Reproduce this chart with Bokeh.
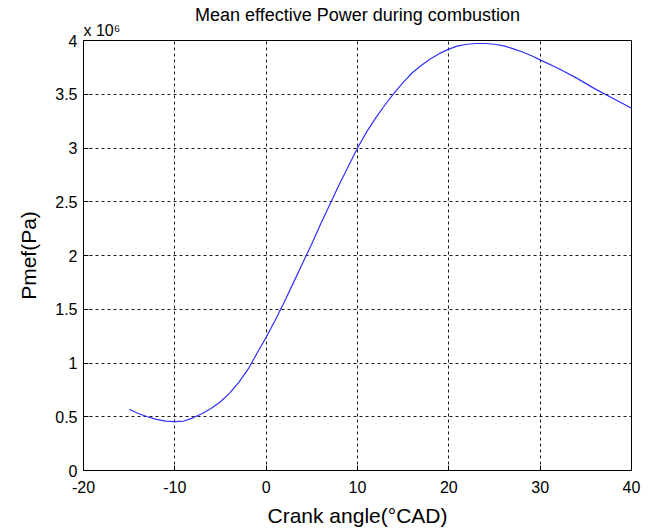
from bokeh.plotting import figure
from bokeh.models import Range1d, FixedTicker, Title, ColumnDataSource
from bokeh.embed import file_html
from bokeh.resources import INLINE

# Crank angle (°CAD)
crank_angle = [-15, -14, -13, -12, -11, -10, -9, -8, -7, -6, -5, -4, -3, -2, -1,
               0, 1, 2, 3, 4, 5, 6, 7, 8, 9, 10, 11, 12, 13, 14, 15, 16, 17, 18,
               19, 20, 21, 22, 23, 24, 25, 26, 27, 28, 29, 30, 32, 34, 36, 38, 40]
# Mean effective pressure (x 10^6 Pa)
pmef = [0.57, 0.53, 0.50, 0.475, 0.46, 0.455, 0.46, 0.49, 0.53, 0.58, 0.64, 0.72,
        0.82, 0.94, 1.09, 1.24, 1.40, 1.57, 1.75, 1.93, 2.11, 2.30, 2.48, 2.66,
        2.83, 3.00, 3.15, 3.28, 3.40, 3.51, 3.61, 3.70, 3.77, 3.83, 3.88, 3.92,
        3.95, 3.965, 3.972, 3.972, 3.965, 3.95, 3.925, 3.895, 3.86, 3.82, 3.74,
        3.65, 3.55, 3.46, 3.37]

x_ticks = [-20, -10, 0, 10, 20, 30, 40]
x_tick_labels = ["-20", "-10", "0", "10", "20", "30", "40"]
y_ticks = [0, 0.5, 1, 1.5, 2, 2.5, 3, 3.5, 4]
y_tick_labels = ["0", "0.5", "1", "1.5", "2", "2.5", "3", "3.5", "4"]

FONT = "Liberation Sans"

p = figure(width=649, height=530, output_backend="svg", toolbar_location=None,
           x_range=Range1d(-20, 40), y_range=Range1d(0, 4),
           min_border_left=83, min_border_right=18, min_border_top=40,
           min_border_bottom=60,
           title="Mean effective Power during combustion")

p.title.text_font = FONT
p.title.text_font_size = "18px"
p.title.text_font_style = "normal"
p.title.align = "center"
p.title.text_color = "black"
p.title.offset = 0
p.title.standoff = -14

scale_title = Title(text="x 10\u2076", align="left", text_font=FONT,
                    text_font_size="16px", text_font_style="normal",
                    text_color="black", standoff=4, offset=0)
p.add_layout(scale_title, "above")

src = ColumnDataSource(dict(x=crank_angle, y=pmef))
p.line("x", "y", source=src, line_color="#2f2fff", line_width=1.2)

p.xaxis.ticker = FixedTicker(ticks=x_ticks)
p.yaxis.ticker = FixedTicker(ticks=y_ticks)
p.xaxis.major_label_overrides = {t: l for t, l in zip(x_ticks, x_tick_labels)}
p.yaxis.major_label_overrides = {t: l for t, l in zip(y_ticks, y_tick_labels)}

for ax in (p.xaxis, p.yaxis):
    ax.minor_tick_line_color = None
    ax.major_tick_in = 5
    ax.major_tick_out = 0
    ax.major_tick_line_color = "black"
    ax.axis_line_color = "black"
    ax.major_label_text_font = FONT
    ax.major_label_text_font_size = "16px"
    ax.major_label_text_color = "black"
    ax.axis_label_text_font = FONT
    ax.axis_label_text_font_size = "21px"
    ax.axis_label_text_font_style = "normal"
    ax.axis_label_text_color = "black"

p.xaxis.axis_label = "Crank angle(°CAD)"
p.yaxis.axis_label = "Pmef(Pa)"
p.xaxis.major_label_standoff = 10
p.xaxis.axis_label_standoff = 8
p.yaxis.major_label_standoff = 6
p.yaxis.axis_label_standoff = 12

p.xgrid.grid_line_color = "black"
p.ygrid.grid_line_color = "black"
p.xgrid.grid_line_dash = "3 3"
p.ygrid.grid_line_dash = "3 3"
p.xgrid.grid_line_alpha = 0.9
p.ygrid.grid_line_alpha = 0.9

p.outline_line_color = "black"
p.outline_line_width = 1
p.background_fill_color = "white"
p.border_fill_color = "white"

open("out.html", "w").write(file_html(p, INLINE))
